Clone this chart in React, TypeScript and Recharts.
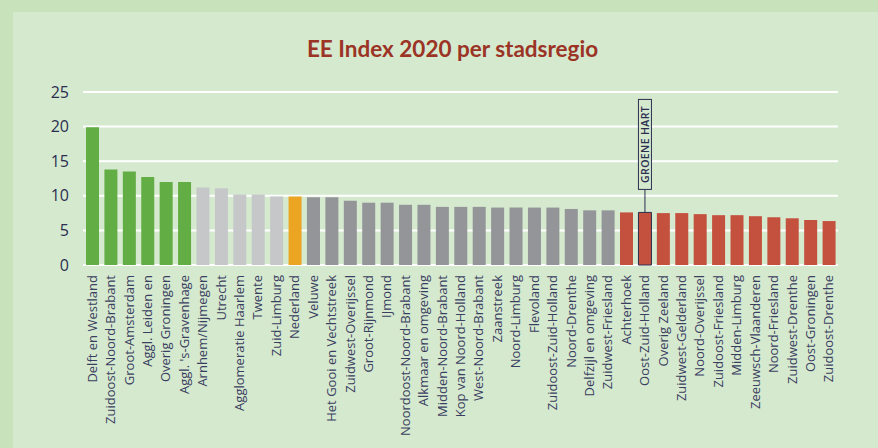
import React from "react";
import { Bar, BarChart, CartesianGrid, Cell, XAxis, YAxis } from "recharts";

const categories = [
  "Delft en Westland",
  "Zuidoost-Noord-Brabant",
  "Groot-Amsterdam",
  "Aggl. Leiden en",
  "Overig Groningen",
  "Aggl. 's-Gravenhage",
  "Arnhem/Nijmegen",
  "Utrecht",
  "Agglomeratie Haarlem",
  "Twente",
  "Zuid-Limburg",
  "Nederland",
  "Veluwe",
  "Het Gooi en Vechtstreek",
  "Zuidwest-Overijssel",
  "Groot-Rijnmond",
  "IJmond",
  "Noordoost-Noord-Brabant",
  "Alkmaar en omgeving",
  "Midden-Noord-Brabant",
  "Kop van Noord-Holland",
  "West-Noord-Brabant",
  "Zaanstreek",
  "Noord-Limburg",
  "Flevoland",
  "Zuidoost-Zuid-Holland",
  "Noord-Drenthe",
  "Delfzijl en omgeving",
  "Zuidwest-Friesland",
  "Achterhoek",
  "Oost-Zuid-Holland",
  "Overig Zeeland",
  "Zuidwest-Gelderland",
  "Noord-Overijssel",
  "Zuidoost-Friesland",
  "Midden-Limburg",
  "Zeeuwsch-Vlaanderen",
  "Noord-Friesland",
  "Zuidwest-Drenthe",
  "Oost-Groningen",
  "Zuidoost-Drenthe",
];

const values = [
  19.9, 13.8, 13.5, 12.7, 12.0, 12.0, 11.2, 11.1, 10.2, 10.2, 9.9, 9.9, 9.8,
  9.8, 9.3, 9.0, 9.0, 8.7, 8.7, 8.4, 8.4, 8.4, 8.3, 8.3, 8.3, 8.3, 8.1, 7.9,
  7.9, 7.6, 7.6, 7.5, 7.5, 7.35, 7.2, 7.2, 7.05, 6.9, 6.75, 6.5, 6.35,
];

// group per region: top, upper, nl, middle, low
const groups = [
  "top", "top", "top", "top", "top", "top",
  "upper", "upper", "upper", "upper", "upper",
  "nl",
  "middle", "middle", "middle", "middle", "middle", "middle", "middle",
  "middle", "middle", "middle", "middle", "middle", "middle", "middle",
  "middle", "middle", "middle",
  "low", "low", "low", "low", "low", "low", "low", "low", "low", "low",
  "low", "low",
];

const yTicks = [0, 5, 10, 15, 20, 25];
const highlighted = "Oost-Zuid-Holland";
const highlightLabel = "GROENE HART";

const groupColors: Record<string, string> = {
  top: "#62ad44",
  upper: "#c6c7c9",
  nl: "#eba523",
  middle: "#939598",
  low: "#c4513e",
};

const NAVY = "#2b2e4f";

const data = categories.map((name, i) => ({
  name,
  value: values[i],
  group: groups[i],
}));

function CategoryTick(props: any) {
  const { x, y, payload } = props;
  return (
    <text
      x={x}
      y={y}
      dy="0.35em"
      transform={`rotate(-90, ${x}, ${y})`}
      textAnchor="end"
      fill="#3a3e60"
      fontSize={13}
      fontFamily="'Open Sans', sans-serif"
    >
      {payload.value}
    </text>
  );
}

function HighlightLabel(props: any) {
  const { x, y, width, index } = props;
  if (categories[index] !== highlighted) return null;
  const boxBottom = y - 23;
  const boxTop = boxBottom - 90;
  const cx = x + width / 2;
  const cy = (boxTop + boxBottom) / 2;
  return (
    <g>
      <line x1={cx} x2={cx} y1={boxBottom} y2={y} stroke={NAVY} strokeWidth={1} />
      <rect
        x={x}
        y={boxTop}
        width={width}
        height={boxBottom - boxTop}
        fill="#d5e9cf"
        stroke={NAVY}
        strokeWidth={1}
      />
      <text
        x={cx}
        y={cy}
        dy="0.35em"
        transform={`rotate(-90, ${cx}, ${cy})`}
        textAnchor="middle"
        fill={NAVY}
        fontSize={10.5}
        fontWeight={600}
        letterSpacing={0.4}
        fontFamily="'Open Sans', sans-serif"
      >
        {highlightLabel}
      </text>
    </g>
  );
}

export default function App() {
  return (
    <div
      style={{
        position: "absolute",
        left: 0,
        top: 0,
        width: 878,
        height: 448,
        background: "#c8e2bb",
        overflow: "hidden",
      }}
    >
      <div
        style={{
          position: "absolute",
          left: 13,
          top: 12,
          width: 865,
          height: 436,
          background: "#d5e9cf",
        }}
      />
      <div
        style={{
          position: "absolute",
          left: 0,
          top: 35,
          width: 905,
          textAlign: "center",
          color: "#9b3425",
          fontFamily: "Lato, sans-serif",
          fontWeight: 700,
          fontSize: 22.5,
          lineHeight: "28px",
        }}
      >
        EE Index 2020 per stadsregio
      </div>
      <div style={{ position: "absolute", left: 0, top: 0 }}>
        <BarChart
          width={878}
          height={448}
          data={data}
          margin={{ top: 92, right: 40, left: 43, bottom: 0 }}
        >
          <CartesianGrid
            vertical={false}
            stroke="#ffffff"
            strokeWidth={2}
            horizontalValues={yTicks}
          />
          <XAxis
            dataKey="name"
            interval={0}
            height={183}
            tickLine={false}
            axisLine={false}
            tickSize={0}
            tickMargin={10}
            tick={<CategoryTick />}
          />
          <YAxis
            width={40}
            domain={[0, 25]}
            ticks={yTicks}
            tickLine={false}
            axisLine={false}
            tickSize={0}
            tickMargin={14}
            tick={{
              fill: NAVY,
              fontSize: 16,
              fontFamily: "'Open Sans', sans-serif",
            }}
          />
          <Bar
            dataKey="value"
            barSize={13}
            isAnimationActive={false}
            label={<HighlightLabel />}
          >
            {data.map((d) => (
              <Cell
                key={d.name}
                fill={groupColors[d.group]}
                stroke={d.name === highlighted ? NAVY : "none"}
                strokeWidth={d.name === highlighted ? 1 : 0}
              />
            ))}
          </Bar>
        </BarChart>
      </div>
    </div>
  );
}
